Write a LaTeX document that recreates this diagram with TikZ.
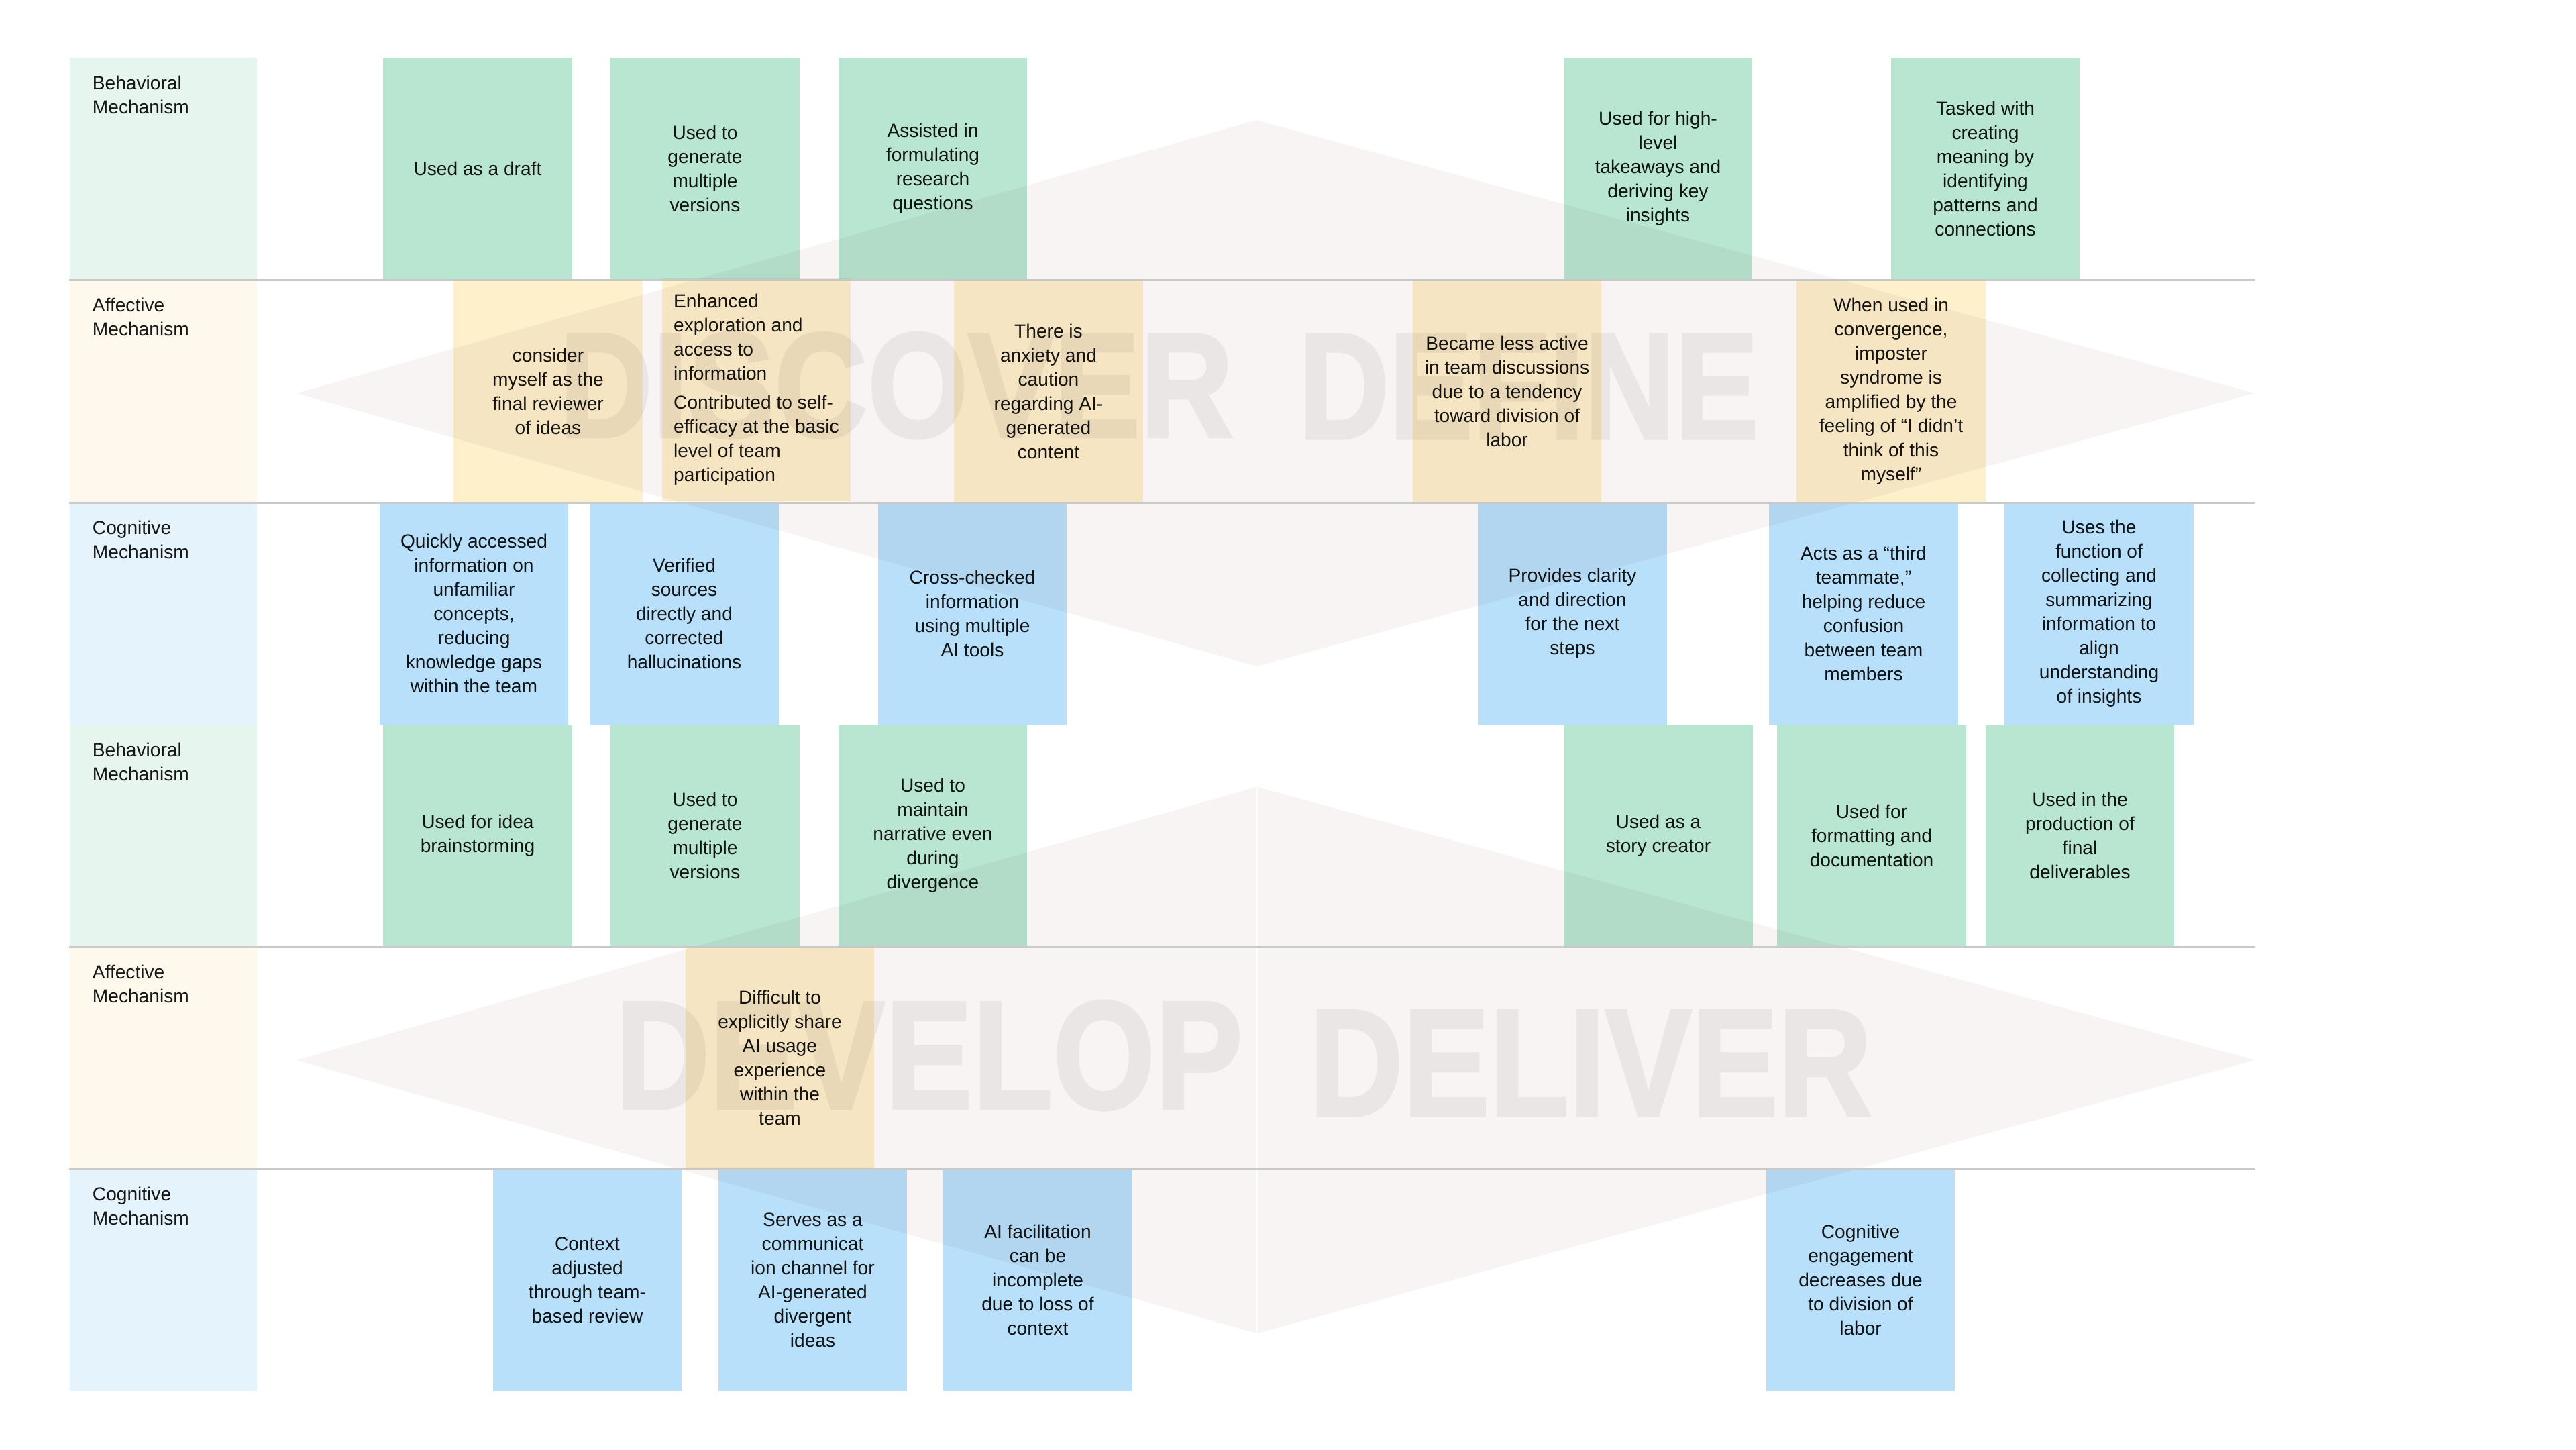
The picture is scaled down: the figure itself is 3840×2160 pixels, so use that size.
\documentclass[tikz,border=0pt]{standalone}
\usepackage{fontspec}
\setmainfont{Liberation Sans}
\newfontfamily\phasefont{Liberation Sans}[BoldFeatures={FakeBold=2}]
\usetikzlibrary{positioning}
\definecolor{notegreen}{HTML}{B8E6D0}
\definecolor{noteyellow}{HTML}{FDF0CB}
\definecolor{noteblue}{HTML}{B8E0FB}
\definecolor{lanegreen}{HTML}{E6F5EE}
\definecolor{laneyellow}{HTML}{FEF9EC}
\definecolor{laneblue}{HTML}{E5F3FC}
\definecolor{diamondfill}{HTML}{F8F4F4}
\definecolor{phasegray}{HTML}{EAE6E6}
\definecolor{linegray}{HTML}{C9C9C9}
\definecolor{ink}{HTML}{161616}
\newcommand\notefont{\fontsize{8pt}{10.24pt}\selectfont}

\begin{document}
\begin{tikzpicture}[
    x=0.01cm, y=-0.01cm,
    note/.style={rectangle, minimum width=2.81cm, minimum height=3.31cm, inner sep=0pt, align=center, text=ink, font=\notefont, blend mode=multiply},
    gnote/.style={note, fill=notegreen},
    ynote/.style={note, fill=noteyellow},
    bnote/.style={note, fill=noteblue},
    lane/.style={rectangle, minimum width=2.79cm, minimum height=3.31cm, inner sep=0pt},
    mech/.style={align=left, inner sep=0pt, text=ink, font=\notefont},
    phase/.style={inner sep=0pt, anchor=south west, text=phasegray, font=\phasefont\bfseries},
    rowline/.style={draw=linegray, line width=0.03cm}
]
    \useasboundingbox (0,0) rectangle (3840,2160);
    \coordinate (rend) at (3362,0);

    % Diamonds
    \fill[diamondfill] (442,586) -- (1873,179) -- (3361,586) -- (1873,993) -- cycle;
    \fill[diamondfill] (442,1580) -- (1872.5,1173) -- (1872.5,1987) -- cycle;
    \fill[diamondfill] (1874.5,1173) -- (3361,1580) -- (1874.5,1987) -- cycle;
    \node[phase] (discover) at (833,654) {\resizebox{10.04cm}{1.55cm}{DISCOVER}};
    \node[phase] (define) at (1935,654) {\resizebox{6.85cm}{1.55cm}{DEFINE}};
    \node[phase] (develop) at (916,1655) {\resizebox{9.35cm}{1.6cm}{DEVELOP}};
    \node[phase] (deliver) at (1951,1663) {\resizebox{8.38cm}{1.56cm}{DELIVER}};

    % Lanes
    \node[lane, fill=lanegreen] (lane1) at (243.5,251.5) {};
    \node[lane, fill=laneyellow] (lane2) at (243.5,583) {};
    \node[lane, fill=laneblue] (lane3) at (243.5,914.5) {};
    \node[lane, fill=lanegreen] (lane4) at (243.5,1245.5) {};
    \node[lane, fill=laneyellow] (lane5) at (243.5,1576.5) {};
    \node[lane, fill=laneblue] (lane6) at (243.5,1907.5) {};

    % Discover / Define
    \node[gnote] (b1) at (712,251.5) {Used as a draft};
    \node[gnote] (b2) at (1051,251.5) {Used to\\generate\\multiple\\versions};
    \node[gnote] (b3) at (1390.5,251.5) {Assisted in\\formulating\\research\\questions};
    \node[gnote] (b4) at (2471.5,251.5) {Used for high-\\level\\takeaways and\\deriving key\\insights};
    \node[gnote] (b5) at (2959.5,251.5) {Tasked with\\creating\\meaning by\\identifying\\patterns and\\connections};

    \node[ynote] (a1) at (817,583) {consider\\myself as the\\final reviewer\\of ideas};
    \node[ynote, align=left] (a2) at (1127.5,581) {Enhanced\\exploration and\\access to\\information\\[2pt]Contributed to self-\\efficacy at the basic\\level of team\\participation};
    \node[ynote] (a3) at (1563,583) {There is\\anxiety and\\caution\\regarding AI-\\generated\\content};
    \node[ynote] (a4) at (2246.5,583) {Became less active\\in team discussions\\due to a tendency\\toward division of\\labor};
    \node[ynote] (a5) at (2819,583) {When used in\\convergence,\\imposter\\syndrome is\\amplified by the\\feeling of “I didn’t\\think of this\\myself”};

    \node[bnote] (c1) at (706.5,914.5) {Quickly accessed\\information on\\unfamiliar\\concepts,\\reducing\\knowledge gaps\\within the team};
    \node[bnote] (c2) at (1020,914.5) {Verified\\sources\\directly and\\corrected\\hallucinations};
    \node[bnote] (c3) at (1449.5,914.5) {Cross-checked\\information\\using multiple\\AI tools};
    \node[bnote] (c4) at (2344,914.5) {Provides clarity\\and direction\\for the next\\steps};
    \node[bnote] (c5) at (2778,914.5) {Acts as a “third\\teammate,”\\helping reduce\\confusion\\between team\\members};
    \node[bnote] (c6) at (3129,914.5) {Uses the\\function of\\collecting and\\summarizing\\information to\\align\\understanding\\of insights};

    % Develop / Deliver
    \node[gnote] (b6) at (712,1245.5) {Used for idea\\brainstorming};
    \node[gnote] (b7) at (1051,1245.5) {Used to\\generate\\multiple\\versions};
    \node[gnote] (b8) at (1390.5,1245.5) {Used to\\maintain\\narrative even\\during\\divergence};
    \node[gnote] (b9) at (2472,1245.5) {Used as a\\story creator};
    \node[gnote] (b10) at (2790,1245.5) {Used for\\formatting and\\documentation};
    \node[gnote] (b11) at (3100.5,1245.5) {Used in the\\production of\\final\\deliverables};

    \node[ynote] (a6) at (1162.5,1576.5) {Difficult to\\explicitly share\\AI usage\\experience\\within the\\team};

    \node[bnote] (c7) at (875.5,1907.5) {Context\\adjusted\\through team-\\based review};
    \node[bnote] (c8) at (1211.5,1907.5) {Serves as a\\communicat\\ion channel for\\AI-generated\\divergent\\ideas};
    \node[bnote] (c9) at (1547,1907.5) {AI facilitation\\can be\\incomplete\\due to loss of\\context};
    \node[bnote] (c10) at (2773.5,1907.5) {Cognitive\\engagement\\decreases due\\to division of\\labor};

    % Row rules
    \draw[rowline] (lane1.south west) -- (lane1.south west -| rend);
    \draw[rowline] (lane2.south west) -- (lane2.south west -| rend);
    \draw[rowline] (lane4.south west) -- (lane4.south west -| rend);
    \draw[rowline] (lane5.south west) -- (lane5.south west -| rend);

    % Lane labels
    \node[mech, below right=0.27cm and 0.34cm of lane1.north west] (m1) {Behavioral\\Mechanism};
    \node[mech, below right=0.27cm and 0.34cm of lane2.north west] (m2) {Affective\\Mechanism};
    \node[mech, below right=0.27cm and 0.34cm of lane3.north west] (m3) {Cognitive\\Mechanism};
    \node[mech, below right=0.27cm and 0.34cm of lane4.north west] (m4) {Behavioral\\Mechanism};
    \node[mech, below right=0.27cm and 0.34cm of lane5.north west] (m5) {Affective\\Mechanism};
    \node[mech, below right=0.27cm and 0.34cm of lane6.north west] (m6) {Cognitive\\Mechanism};
\end{tikzpicture}
\end{document}
